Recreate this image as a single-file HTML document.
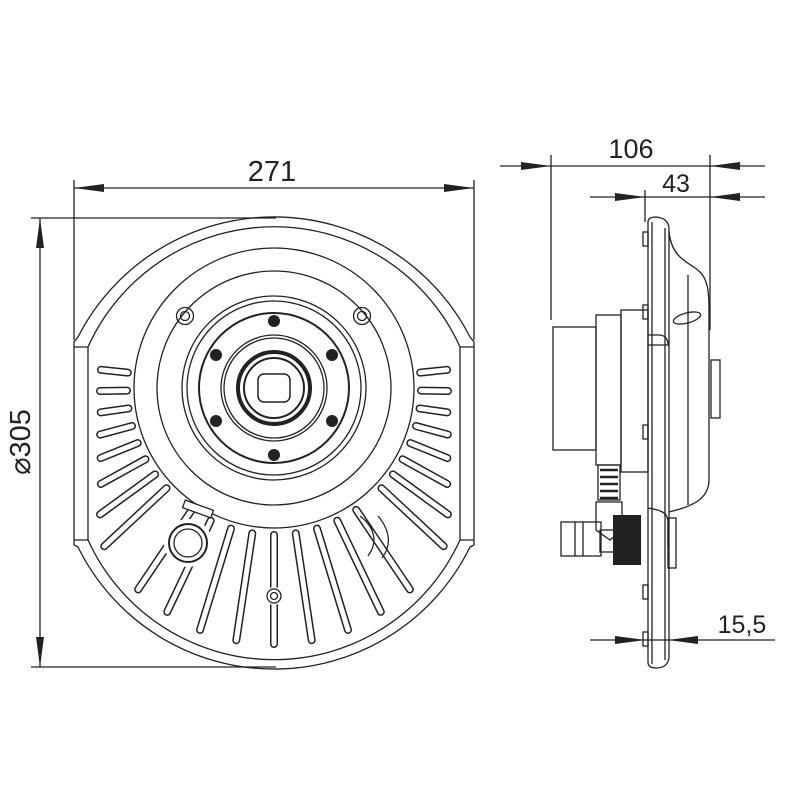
<!DOCTYPE html>
<html><head><meta charset="utf-8"><style>
html,body{margin:0;padding:0;background:#fff}
svg{display:block}
text{font-family:"Liberation Sans",sans-serif;fill:#222}
</style></head><body>
<svg id="s" width="800" height="800" viewBox="0 0 800 800" xmlns="http://www.w3.org/2000/svg">
<g id="fins" fill="none" stroke-linecap="round"></g>
<g fill="none" stroke="#222" stroke-width="1.3">
<!-- dimension 271 -->
<line x1="74" y1="180" x2="74" y2="340"/>
<line x1="474" y1="180" x2="474" y2="340"/>
<line x1="74" y1="188" x2="474" y2="188"/>
<!-- dimension 305 -->
<line x1="31" y1="218" x2="276" y2="218"/>
<line x1="31" y1="667" x2="276" y2="667"/>
<line x1="40" y1="218" x2="40" y2="667"/>
<!-- side dims -->
<line x1="500" y1="166" x2="765" y2="166"/>
<line x1="551" y1="155" x2="551" y2="320"/>
<line x1="710" y1="155" x2="710" y2="330"/>
<line x1="590" y1="197" x2="765" y2="197"/>
<line x1="645" y1="190" x2="645" y2="222"/>
<line x1="590" y1="640" x2="775" y2="640"/>

<!-- front outer -->
<path d="M78,337 A220,220 0 0 1 470,337 L474,342 L474,545 L470,547 A218.4,218.4 0 0 1 78,547 L74,545 L74,342 Z"/>
<path d="M88,347 A204,204 0 0 1 460,347"/>
<path d="M74,347 L88,347 L88,540 L74,540 M474,347 L460,347 L460,540 L474,540"/>
<path d="M88,540 A204.4,204.4 0 0 0 460,540"/>
<circle cx="274" cy="388" r="140"/>
<circle cx="274" cy="388" r="117"/>
<circle cx="274" cy="388" r="92"/>
<circle cx="274" cy="388" r="87"/>
<circle cx="274" cy="388" r="75" stroke-width="2"/>
<circle cx="274" cy="388" r="53"/>
<circle cx="274" cy="388" r="50"/>
<circle cx="274" cy="388" r="36" stroke-width="4"/>
<circle cx="274" cy="388" r="30" stroke-width="2"/>
<rect x="258" y="374" width="32" height="28" rx="6" stroke-width="1.5"/>
<circle cx="185" cy="316" r="8.5"/><circle cx="185" cy="316" r="4.5"/>
<circle cx="362" cy="316" r="8.5"/><circle cx="362" cy="316" r="4.5"/>
<circle cx="274" cy="596" r="9" fill="#fff" stroke="none"/>
<circle cx="274" cy="596" r="7"/><circle cx="274" cy="596" r="3.5"/>
<circle cx="188" cy="543" r="24" fill="#fff" stroke="none"/>
<circle cx="188" cy="543" r="19" stroke-width="2" fill="#fff"/><circle cx="188" cy="543" r="14"/>
<rect x="183" y="505" width="30" height="8" fill="#fff" transform="rotate(20 198 509)"/>
<path d="M360,516 C372,525 380,540 368,556 M378,516 C390,530 392,545 382,558"/>
</g>
<g fill="#222">
<circle cx="274" cy="321" r="6"/><circle cx="216" cy="355" r="6"/><circle cx="332" cy="355" r="6"/>
<circle cx="216" cy="421" r="6"/><circle cx="332" cy="421" r="6"/><circle cx="274" cy="455" r="6"/>
<!-- arrows -->
<path d="M74,188 L104,184 L104,192 Z"/><path d="M474,188 L444,184 L444,192 Z"/>
<path d="M40,218 L36,248 L44,248 Z"/><path d="M40,667 L36,637 L44,637 Z"/>
<path d="M551,166 L521,162 L521,170 Z"/><path d="M710,166 L740,162 L740,170 Z"/>
<path d="M645,197 L615,193 L615,201 Z"/><path d="M710,197 L740,193 L740,201 Z"/>
<path d="M645,640 L615,636 L615,644 Z"/><path d="M668,640 L698,636 L698,644 Z"/>
</g>

<!-- side view -->
<g fill="none" stroke="#222" stroke-width="1.3">
<path d="M648,222 Q648,217 656,217 Q668,218 669,228 L669,657 Q668,668 656,668 Q648,668 648,662 Z"/>
<line x1="652" y1="222" x2="652" y2="664"/>
<line x1="665" y1="228" x2="665" y2="660"/>
<path d="M669,232 C672,260 690,262 700,272 C710,282 709,300 709,320 L709,480 C709,500 690,507 669,512"/>
<line x1="688" y1="275" x2="688" y2="505"/>
<ellipse cx="687" cy="318" rx="14" ry="5" transform="rotate(-15 687 318)"/>
<rect x="711" y="360" width="9" height="58"/>
<rect x="553" y="327" width="43" height="123"/>
<rect x="596" y="315" width="25" height="150"/>
<rect x="621" y="310" width="27" height="162"/>
<rect x="643" y="232" width="5" height="14"/><rect x="643" y="305" width="5" height="14"/>
<rect x="643" y="425" width="5" height="14"/><rect x="643" y="585" width="5" height="14"/>
<rect x="643" y="632" width="5" height="14"/>
<path d="M648,335 L660,335 Q668,336 668,345 L648,345"/>
<path d="M598,465 L620,465 L620,500 L598,500 Z"/>
<path d="M600,470 H618 M600,477 H618 M600,484 H618 M600,491 H618 M600,498 H618" stroke-width="2.5"/>
<path d="M596,502 L622,502 L622,530 L610,540 L596,530 Z"/>
<rect x="561" y="522" width="40" height="34"/>
<line x1="575" y1="522" x2="575" y2="556"/><line x1="583" y1="522" x2="583" y2="556"/>
<rect x="600" y="530" width="14" height="22"/>
<rect x="668" y="518" width="8" height="50"/>
<path d="M648,508 C660,510 668,512 668,522 L668,548"/>
</g>
<rect x="613" y="515" width="28" height="50" fill="#222"/>

<text x="272" y="181" font-size="29" text-anchor="middle">271</text>
<text x="631" y="158" font-size="27" text-anchor="middle">106</text>
<text x="676" y="192" font-size="25" text-anchor="middle">43</text>
<text x="742" y="633" font-size="25" text-anchor="middle">15,5</text>
<text transform="translate(30,442) rotate(-90)" font-size="29" text-anchor="middle">⌀305</text>
</svg>
<script>
(function(){
var g=document.getElementById('fins'),ns='http://www.w3.org/2000/svg';
var cx=274,cy=388;
function inside(x,y){
 if(x<100||x>448)return false;
 var d=Math.hypot(x-274,y-448.6); if(y>448 && d>196)return false;
 return true;}
var angs=[];
for(var a=-6;a<=48;a+=7)angs.push(180-a);
for(var a=-6;a<=48;a+=7)angs.push(a);
for(var a=56;a<=124;a+=8.5)angs.push(a);
angs.forEach(function(a){
 var t=a*Math.PI/180,c=Math.cos(t),s=Math.sin(t);
 var r0=147,r=r0;
 while(inside(cx+c*(r+1),cy+s*(r+1))&&r<320)r+=1;
 if(r-r0<12)return;
 var x1=cx+c*r0,y1=cy+s*r0,x2=cx+c*r,y2=cy+s*r;
 [['#222',8],['#fff',5]].forEach(function(p){
  var l=document.createElementNS(ns,'line');
  l.setAttribute('x1',x1);l.setAttribute('y1',y1);l.setAttribute('x2',x2);l.setAttribute('y2',y2);
  l.setAttribute('stroke',p[0]);l.setAttribute('stroke-width',p[1]);g.appendChild(l);});
});
})();
</script>
</body></html>
